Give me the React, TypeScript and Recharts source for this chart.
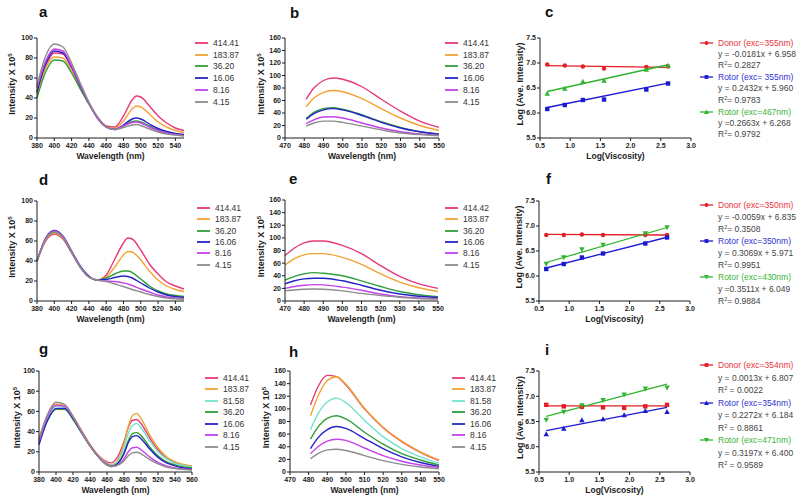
import React from 'react';
import { LineChart, ComposedChart, Line, Scatter, XAxis, YAxis, Legend } from 'recharts';

const FONT = "'Liberation Sans', Arial, Helvetica, sans-serif";
const INK = '#1c1c1c';

// line colours per viscosity (cP)
const PINK = '#e8377b';
const ORANGE = '#f2a232';
const CYAN = '#72e2cc';
const GREEN = '#2e9d3a';
const BLUE = '#2424c4';
const PURPLE = '#c642ea';
const GREY = '#8c8c8c';

const sixLabels = ['414.41', '183.87', '36.20', '16.06', '8.16', '4.15'];
const sixLabelsE = ['414.42', '183.87', '36.20', '16.06', '8.16', '4.15'];
const sevenLabels = ['414.41', '183.87', '81.58', '36.20', '16.06', '8.16', '4.15'];
const sixColors = [PINK, ORANGE, GREEN, BLUE, PURPLE, GREY];
const sevenColors = [PINK, ORANGE, CYAN, GREEN, BLUE, PURPLE, GREY];

// ---- emission spectra (intensity x 10^5), one row per viscosity, in legend order ----
const aWl = [380, 390, 400, 410, 420, 430, 440, 450, 460, 470, 480, 490, 495, 500, 510, 520, 530, 540, 550];
const aValues = [
  [45, 72, 85, 84, 70, 52, 35, 21, 12, 11, 22, 38, 42, 41, 32, 22, 15, 10, 7.5],
  [44, 70, 81, 80, 67, 50, 34, 20, 11, 9.5, 17, 29, 32, 31, 24, 16, 11, 7.5, 5.5],
  [40, 66, 78, 77, 65, 49, 34, 20, 11, 8.5, 12, 16.5, 17, 16, 12, 8, 5.5, 4, 3],
  [46, 74, 87, 85, 71, 52, 35, 20, 11, 8.5, 13, 19, 20, 19, 14, 9.5, 6.5, 4.5, 3.5],
  [50, 77, 89, 87, 72, 53, 35, 20, 11, 8.5, 12, 15.5, 16, 15, 11, 7.5, 5, 3.5, 2.5],
  [52, 82, 94, 91, 75, 55, 36, 21, 11, 8.5, 10.5, 13, 13.5, 12.5, 9, 6, 4, 3, 2],
];

const bWl = [481, 485, 490, 495, 500, 510, 520, 530, 540, 550];
const bValues = [
  [62, 80, 92, 96, 94, 82, 62, 43, 27, 17],
  [50, 64, 73, 76, 74, 63, 47, 32, 20, 12],
  [31, 41, 47, 48.5, 46, 37, 26, 17, 10, 6.5],
  [30, 39, 45, 47, 45, 36, 25, 16, 10, 6],
  [23, 29, 33.5, 34, 32, 24, 16, 10, 6.5, 4.5],
  [19, 24, 27, 27, 25, 19, 13, 8, 5.5, 3.5],
];

const dWl = [380, 390, 400, 410, 420, 430, 440, 450, 460, 470, 480, 485, 490, 500, 510, 520, 530, 540, 550];
const dValues = [
  [40, 60, 67, 62, 48, 34, 24, 21, 26, 42, 58, 63, 62, 51, 37, 27, 19, 15, 12],
  [39, 61, 68, 63, 49, 34, 24, 21, 24, 34, 46, 49.5, 49, 41, 30, 21, 15, 11.5, 9.5],
  [40, 62, 69, 64, 49, 34, 24, 21, 23, 27, 30, 30, 28.5, 22, 15, 10, 7, 5.5, 4.5],
  [40, 63, 70.5, 65, 50, 35, 25, 21, 21.5, 23.5, 25, 24.5, 23, 18, 13, 9, 6, 4.5, 3.5],
  [40, 62, 70, 64, 49, 34, 24, 21, 20, 19.5, 18, 17, 15.5, 12, 9, 6, 4, 3, 2.5],
  [40, 62, 69, 64, 49, 34, 24, 21, 19.5, 17, 14.5, 13, 11.5, 9, 6.5, 4.5, 3, 2.2, 1.8],
];

const eWl = [470, 475, 480, 485, 490, 500, 510, 520, 530, 540, 550];
const eValues = [
  [72, 84, 92, 95, 95, 88, 75, 56, 39, 27, 20],
  [57, 67, 73, 75, 75, 69, 58, 43, 30, 21, 15],
  [33, 39, 43, 45, 44, 40, 32, 23, 15, 10, 7],
  [27, 32, 35, 36, 36, 32, 25, 17, 11, 7.5, 5.5],
  [20, 23, 25, 26, 25.5, 22, 17, 11, 7, 5, 3.5],
  [16, 17.5, 18.5, 19, 18.5, 16, 12, 8.5, 6, 4, 3],
];

const gWl = [380, 390, 400, 410, 420, 430, 440, 450, 460, 465, 470, 480, 485, 490, 495, 500, 510, 520, 530, 540, 550, 560];
const gValues = [
  [33, 56, 67, 66, 55, 41, 27, 16, 10, 9, 12, 30, 44, 51, 52, 48, 34, 22, 14, 9.5, 7, 5.5],
  [32, 55, 67, 66, 55, 41, 27, 16, 8.5, 7, 9, 28, 45, 56, 58, 53, 37, 24, 15, 10, 7.5, 6],
  [31, 54, 65, 64, 53, 40, 26, 15, 8, 6.5, 8, 24, 38, 46, 48, 44, 31, 20, 13, 8.5, 6.5, 5],
  [29, 51, 62, 62, 52, 39, 26, 15, 7.5, 6, 7, 19, 31, 38, 39, 36, 25, 16, 10, 7, 5, 4],
  [27, 51, 63, 63, 53, 39, 26, 15, 7, 5.5, 6.5, 18, 29, 35, 36, 33, 23, 14.5, 9, 6, 4, 3],
  [30, 55, 66, 65, 54, 40, 26, 15, 7, 5.5, 6, 13, 20, 24, 24.5, 22, 15, 9.5, 6, 4, 3, 2.5],
  [32, 57, 69, 67, 55, 40, 26, 15, 7, 5.5, 6, 11, 16, 19, 19.5, 18, 12.5, 8, 5, 3.5, 2.5, 2],
];

const hWl = [481, 485, 490, 495, 500, 510, 520, 530, 540, 550];
const hValues = [
  [106, 135, 153, 151, 138, 100, 70, 48, 31, 18],
  [89, 120, 145, 151, 139, 101, 71, 49, 32, 19],
  [67, 92, 111, 117, 110, 82, 56, 37, 24, 14],
  [52, 71, 85, 89, 84, 63, 44, 29, 19, 11],
  [37, 54, 67, 72, 69, 53, 37, 24, 15, 9],
  [29, 40, 49, 52, 50, 38, 26, 17, 11, 7],
  [21, 29, 35, 36, 34, 26, 18, 12, 8, 5],
];

// ---- log(intensity) vs log(viscosity) ----
const logVisc6 = [0.62, 0.91, 1.21, 1.56, 2.26, 2.62];
const logVisc7 = [0.62, 0.91, 1.21, 1.56, 1.91, 2.26, 2.62];
const fitX = [0.62, 2.62];

const cDonor = [6.97, 6.95, 6.93, 6.89, 6.92, 6.93];
const cRotor355 = [6.08, 6.16, 6.26, 6.27, 6.47, 6.59];
const cRotor467 = [6.39, 6.49, 6.63, 6.65, 6.87, 6.95];
const cDonorFit = [6.947, 6.911];
const cRotor355Fit = [6.11, 6.597];
const cRotor467Fit = [6.43, 6.965];

const fDonor = [6.82, 6.82, 6.83, 6.82, 6.82, 6.82];
const fRotor350 = [6.14, 6.24, 6.37, 6.45, 6.65, 6.77];
const fRotor430 = [6.24, 6.37, 6.53, 6.62, 6.85, 6.97];
const fDonorFit = [6.831, 6.82];
const fRotor350Fit = [6.16, 6.775];
const fRotor430Fit = [6.27, 6.97];

const iDonor = [6.83, 6.8, 6.79, 6.78, 6.77, 6.8, 6.83];
const iRotor354 = [6.25, 6.36, 6.53, 6.55, 6.63, 6.71, 6.69];
const iRotor471 = [6.53, 6.69, 6.82, 6.92, 7.03, 7.15, 7.17];
const iDonorFit = [6.81, 6.81];
const iRotor354Fit = [6.32, 6.78];
const iRotor471Fit = [6.6, 7.24];

const RED = '#e31e24';
const SBLUE = '#1a1ad0';
const SGREEN = '#2fb52f';
const RED_T = '#e8343a';
const BLUE_T = '#2f2fd0';
const GREEN_T = '#38b438';

const ticks100 = [0, 20, 40, 60, 80, 100];
const ticks160 = [0, 20, 40, 60, 80, 100, 120, 140, 160];
const wlTicks380 = [380, 400, 420, 440, 460, 480, 500, 520, 540];
const wlTicks560 = [380, 400, 420, 440, 460, 480, 500, 520, 540, 560];
const wlTicks470 = [470, 480, 490, 500, 510, 520, 530, 540, 550];
const viscTicks = [0.5, 1, 1.5, 2, 2.5, 3];
const logTicks = [5.5, 6, 6.5, 7, 7.5];

type Box = { x: number; y: number; w: number; h: number };
type Shape = 'circle' | 'square' | 'up' | 'down';
type FitSeries = {
  title: string; eq: string; r2: string; color: string; text: string; shape: Shape;
  ys: number[]; fit: number[];
};

const tickStyle = { fontSize: 7, fontWeight: 700, fill: INK, fontFamily: FONT };

function PanelLetter({ ch, x, base }: { ch: string; x: number; base: number }) {
  const fs = 15;
  return (
    <div style={{ position: 'absolute', left: x, top: base - 0.8465 * fs, fontSize: fs, lineHeight: `${fs}px`, fontWeight: 700, fontFamily: FONT, color: '#111' }}>
      {ch}
    </div>
  );
}

const xTitle = (box: Box, text: string) => () => (
  <text x={37 + box.w / 2} y={8 + box.h + 21} textAnchor="middle" fontSize={8.5} fontWeight={700} fontFamily={FONT} fill={INK}>
    {text}
  </text>
);

const yTitle = (box: Box, dx: number, text: string, sup?: string) => () => (
  <text transform={`translate(${37 - dx + 3.3},${8 + box.h / 2 - 4}) rotate(-90)`} textAnchor="middle" fontSize={9} fontWeight={700} fontFamily={FONT} fill={INK}>
    {text}
    {sup && <tspan dy={-3.5} fontSize={6}>{sup}</tspan>}
  </text>
);

function Marker({ cx, cy, kind, color, s = 4.4 }: { cx: number; cy: number; kind: Shape; color: string; s?: number }) {
  const h = s / 2;
  if (kind === 'circle') return <circle cx={cx} cy={cy} r={h} fill={color} />;
  if (kind === 'square') return <rect x={cx - h} y={cy - h} width={s} height={s} fill={color} />;
  if (kind === 'up') return <path d={`M${cx},${cy - h - 0.6}L${cx + h + 0.5},${cy + h}L${cx - h - 0.5},${cy + h}Z`} fill={color} />;
  return <path d={`M${cx - h - 0.5},${cy - h}L${cx + h + 0.5},${cy - h}L${cx},${cy + h + 0.6}Z`} fill={color} />;
}

function ConcKey({ labels, colors, rowH }: { labels: string[]; colors: string[]; rowH: number }) {
  return (
    <div style={{ fontFamily: FONT, fontSize: 8.5, color: '#333', whiteSpace: 'nowrap' }}>
      {labels.map((l, k) => (
        <div key={l} style={{ display: 'flex', alignItems: 'center', height: rowH }}>
          <svg width={13} height={6} style={{ marginRight: 5 }}>
            <line x1={0} y1={3} x2={13} y2={3} stroke={colors[k]} strokeWidth={1.8} />
          </svg>
          <span>{l}</span>
        </div>
      ))}
    </div>
  );
}

function FitKey({ series, rowH }: { series: FitSeries[]; rowH: number }) {
  const row = { height: rowH, lineHeight: `${rowH}px`, paddingLeft: 18 };
  return (
    <div style={{ fontFamily: FONT, fontSize: 8.5, color: '#444', whiteSpace: 'nowrap' }}>
      {series.map((s) => (
        <div key={s.title}>
          <div style={{ display: 'flex', alignItems: 'center', height: rowH }}>
            <svg width={13} height={8} style={{ marginRight: 5 }}>
              <line x1={0} y1={4} x2={13} y2={4} stroke={s.color} strokeWidth={1.3} />
              <Marker cx={6.5} cy={4} kind={s.shape} color={s.color} s={3.8} />
            </svg>
            <span style={{ color: s.text }}>{s.title}</span>
          </div>
          <div style={row}>{s.eq}</div>
          <div style={row}>
            R<span style={{ fontSize: 5.5, position: 'relative', top: -3 }}>2</span>{s.r2}
          </div>
        </div>
      ))}
    </div>
  );
}

type SpecProps = {
  box: Box; wl: number[]; values: number[][]; labels: string[]; colors: string[];
  xDomain: [number, number]; xTicks: number[]; yMax: number; yTicks: number[];
  legend: { x: number; y: number; rowH: number }; titleDx: number;
};

function SpectrumPanel({ box, wl, values, labels, colors, xDomain, xTicks, yMax, yTicks, legend, titleDx }: SpecProps) {
  const rows = wl.map((w, i) => {
    const r: Record<string, number> = { w };
    values.forEach((s, k) => { r['s' + k] = s[i]; });
    return r;
  });
  const left = box.x - 37;
  const top = box.y - 8;
  const width = legend.x + 60 - left;
  return (
    <div style={{ position: 'absolute', left, top }}>
      <LineChart width={width} height={box.h + 40} data={rows} margin={{ top: 8, right: width - 37 - box.w, left: 0, bottom: 0 }}>
        <XAxis type="number" dataKey="w" domain={xDomain} ticks={xTicks} interval={0} height={32}
          axisLine={{ stroke: INK }} tickLine={{ stroke: INK }} tickSize={3} tickMargin={2} tick={tickStyle}
          label={xTitle(box, 'Wavelength (nm)')} />
        <YAxis type="number" domain={[0, yMax]} ticks={yTicks} interval={0} width={37}
          axisLine={{ stroke: INK }} tickLine={{ stroke: INK }} tickSize={3} tickMargin={1} tick={tickStyle}
          label={yTitle(box, titleDx, 'Intensity X 10', '5')} />
        {values.map((_, k) => (
          <Line key={k} type="monotone" dataKey={'s' + k} stroke={colors[k]} strokeWidth={1.4} dot={false} isAnimationActive={false} />
        ))}
        <Legend layout="vertical" align="center" verticalAlign="middle"
          wrapperStyle={{ left: legend.x - left, top: legend.y - top, width: 60 }}
          content={() => <ConcKey labels={labels} colors={colors} rowH={legend.rowH} />} />
      </LineChart>
    </div>
  );
}

type FitProps = { box: Box; xs: number[]; series: FitSeries[]; legend: { x: number; y: number; rowH: number }; titleDx: number };

function FitPanel({ box, xs, series, legend, titleDx }: FitProps) {
  const left = box.x - 37;
  const top = box.y - 8;
  const width = legend.x + 100 - left;
  return (
    <div style={{ position: 'absolute', left, top }}>
      <ComposedChart width={width} height={box.h + 40} margin={{ top: 8, right: width - 37 - box.w, left: 0, bottom: 0 }}>
        <XAxis type="number" dataKey="x" domain={[0.5, 3]} ticks={viscTicks} interval={0} height={32}
          axisLine={{ stroke: INK }} tickLine={{ stroke: INK }} tickSize={3} tickMargin={2} tick={tickStyle}
          tickFormatter={(v: number) => v.toFixed(1)} label={xTitle(box, 'Log(Viscosity)')} />
        <YAxis type="number" dataKey="y" domain={[5.5, 7.5]} ticks={logTicks} interval={0} width={37}
          axisLine={{ stroke: INK }} tickLine={{ stroke: INK }} tickSize={3} tickMargin={1} tick={tickStyle}
          tickFormatter={(v: number) => v.toFixed(1)} label={yTitle(box, titleDx, 'Log (Ave. Intensity)')} />
        {series.map((s) => (
          <Line key={'fit' + s.title} data={fitX.map((x, i) => ({ x, y: s.fit[i] }))} dataKey="y" type="linear"
            stroke={s.color} strokeWidth={1.3} dot={false} isAnimationActive={false} />
        ))}
        {series.map((s) => (
          <Scatter key={'pts' + s.title} data={xs.map((x, i) => ({ x, y: s.ys[i] }))} dataKey="y" fill={s.color}
            isAnimationActive={false}
            shape={(p: any) => <Marker cx={p.cx} cy={p.cy} kind={s.shape} color={s.color} />} />
        ))}
        <Legend layout="vertical" align="center" verticalAlign="middle"
          wrapperStyle={{ left: legend.x - left, top: legend.y - top, width: 100 }}
          content={() => <FitKey series={series} rowH={legend.rowH} />} />
      </ComposedChart>
    </div>
  );
}

const cSeries: FitSeries[] = [
  { title: 'Donor (exc=355nm)', eq: 'y = -0.0181x + 6.958', r2: '= 0.2827', color: RED, text: RED_T, shape: 'circle', ys: cDonor, fit: cDonorFit },
  { title: 'Rotor (exc= 355nm)', eq: 'y = 0.2432x + 5.960', r2: '= 0.9783', color: SBLUE, text: BLUE_T, shape: 'square', ys: cRotor355, fit: cRotor355Fit },
  { title: 'Rotor (exc=467nm)', eq: 'y =0.2663x + 6.268', r2: '= 0.9792', color: SGREEN, text: GREEN_T, shape: 'up', ys: cRotor467, fit: cRotor467Fit },
];
const fSeries: FitSeries[] = [
  { title: 'Donor (exc=350nm)', eq: 'y = -0.0059x + 6.835', r2: '= 0.3508', color: RED, text: RED_T, shape: 'circle', ys: fDonor, fit: fDonorFit },
  { title: 'Rotor (exc=350nm)', eq: 'y = 0.3069x + 5.971', r2: '= 0.9951', color: SBLUE, text: BLUE_T, shape: 'square', ys: fRotor350, fit: fRotor350Fit },
  { title: 'Rotor (exc=430nm)', eq: 'y =0.3511x + 6.049', r2: '= 0.9884', color: SGREEN, text: GREEN_T, shape: 'down', ys: fRotor430, fit: fRotor430Fit },
];
const iSeries: FitSeries[] = [
  { title: 'Donor (exc=354nm)', eq: 'y = 0.0013x + 6.807', r2: ' = 0.0022', color: RED, text: RED_T, shape: 'square', ys: iDonor, fit: iDonorFit },
  { title: 'Rotor (exc=354nm)', eq: 'y = 0.2272x + 6.184', r2: ' = 0.8861', color: SBLUE, text: BLUE_T, shape: 'up', ys: iRotor354, fit: iRotor354Fit },
  { title: 'Rotor (exc=471nm)', eq: 'y = 0.3197x + 6.400', r2: ' = 0.9589', color: SGREEN, text: GREEN_T, shape: 'down', ys: iRotor471, fit: iRotor471Fit },
];

export default function App() {
  return (
    <div style={{ position: 'absolute', left: 0, top: 0, width: 800, height: 501, background: '#fff', overflow: 'hidden' }}>
      <PanelLetter ch="a" x={39} base={17} />
      <PanelLetter ch="b" x={290} base={18} />
      <PanelLetter ch="c" x={545} base={17} />
      <PanelLetter ch="d" x={39} base={185} />
      <PanelLetter ch="e" x={289} base={184} />
      <PanelLetter ch="f" x={546} base={184} />
      <PanelLetter ch="g" x={39} base={354} />
      <PanelLetter ch="h" x={289} base={357} />
      <PanelLetter ch="i" x={545} base={355} />

      <SpectrumPanel box={{ x: 37, y: 38, w: 147, h: 100 }} wl={aWl} values={aValues} labels={sixLabels} colors={sixColors}
        xDomain={[380, 550]} xTicks={wlTicks380} yMax={100} yTicks={ticks100} legend={{ x: 195, y: 37, rowH: 11.8 }} titleDx={25} />
      <SpectrumPanel box={{ x: 285, y: 38, w: 154, h: 100 }} wl={bWl} values={bValues} labels={sixLabels} colors={sixColors}
        xDomain={[470, 550]} xTicks={wlTicks470} yMax={160} yTicks={ticks160} legend={{ x: 445, y: 37, rowH: 11.8 }} titleDx={24} />
      <FitPanel box={{ x: 540, y: 38, w: 151, h: 100 }} xs={logVisc6} series={cSeries} legend={{ x: 700, y: 37, rowH: 11.5 }} titleDx={20} />

      <SpectrumPanel box={{ x: 37, y: 201, w: 147, h: 100 }} wl={dWl} values={dValues} labels={sixLabels} colors={sixColors}
        xDomain={[380, 550]} xTicks={wlTicks380} yMax={100} yTicks={ticks100} legend={{ x: 197, y: 202.5, rowH: 11.3 }} titleDx={25} />
      <SpectrumPanel box={{ x: 285, y: 200, w: 153, h: 101 }} wl={eWl} values={eValues} labels={sixLabelsE} colors={sixColors}
        xDomain={[470, 550]} xTicks={wlTicks470} yMax={160} yTicks={ticks160} legend={{ x: 445, y: 202.5, rowH: 11.3 }} titleDx={24} />
      <FitPanel box={{ x: 539, y: 201, w: 151, h: 100 }} xs={logVisc6} series={fSeries} legend={{ x: 700, y: 199, rowH: 12 }} titleDx={20} />

      <SpectrumPanel box={{ x: 39, y: 371, w: 153, h: 101 }} wl={gWl} values={gValues} labels={sevenLabels} colors={sevenColors}
        xDomain={[380, 560]} xTicks={wlTicks560} yMax={100} yTicks={ticks100} legend={{ x: 205, y: 372.2, rowH: 11.5 }} titleDx={22} />
      <SpectrumPanel box={{ x: 290, y: 371, w: 149, h: 101 }} wl={hWl} values={hValues} labels={sevenLabels} colors={sevenColors}
        xDomain={[470, 550]} xTicks={wlTicks470} yMax={160} yTicks={ticks160} legend={{ x: 452, y: 372.2, rowH: 11.5 }} titleDx={24} />
      <FitPanel box={{ x: 539, y: 371, w: 151, h: 101 }} xs={logVisc7} series={iSeries} legend={{ x: 700, y: 359, rowH: 12.5 }} titleDx={19} />
    </div>
  );
}
